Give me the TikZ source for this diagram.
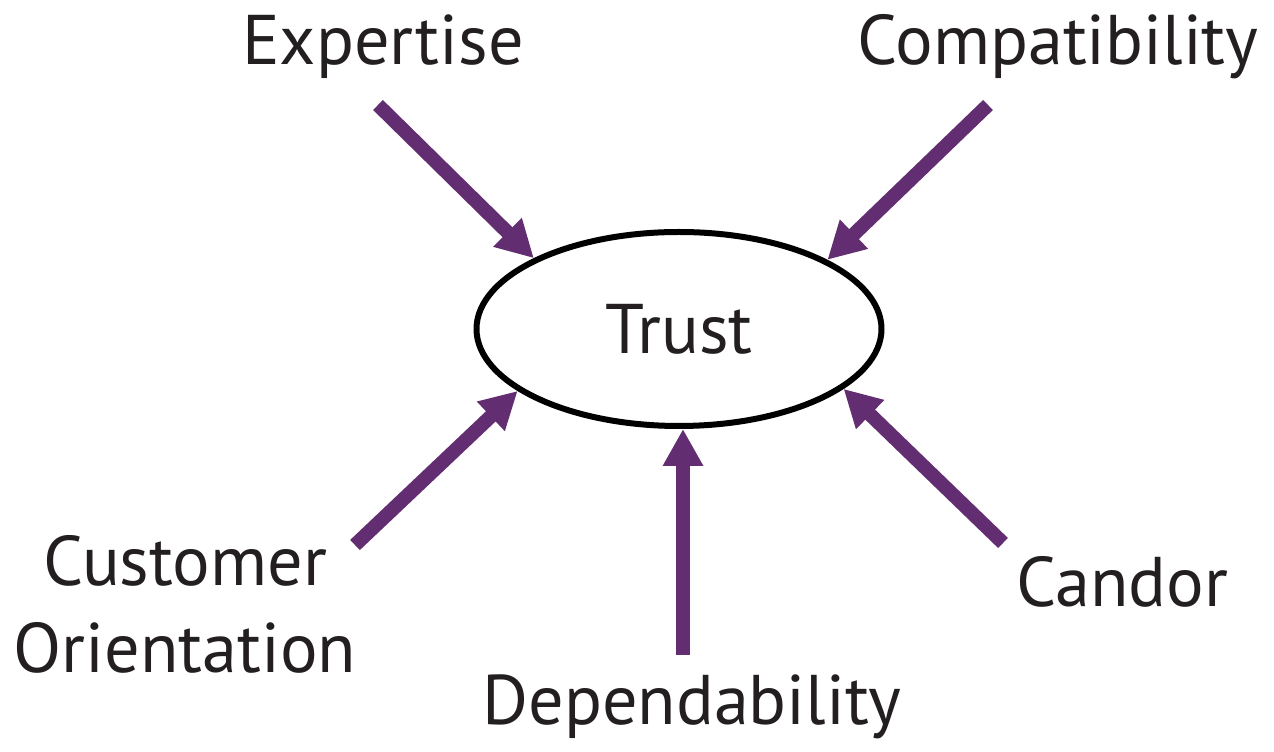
\documentclass[tikz,border=0pt]{standalone}
\usepackage{fontspec}
\setmainfont{PT Sans}
\usetikzlibrary{arrows.meta,shapes.geometric}
\definecolor{trustpurple}{RGB}{99,45,113}
\definecolor{inkblack}{RGB}{35,31,32}
\begin{document}
\begin{tikzpicture}[
    factor/.style={font=\fontsize{40}{50}\selectfont,text=inkblack,inner sep=0pt,anchor=base},
    push/.style={draw=trustpurple,line width=0.28cm,
      -{Triangle[length=0.74cm,width=0.76cm]}}]
  \useasboundingbox (0,0) rectangle (25.48,15.04);
  \node[ellipse,draw,line width=0.12cm,minimum width=8.1cm,minimum height=3.88cm,
    inner sep=0pt,text=inkblack,font=\fontsize{40}{50}\selectfont] (trust) at (13.58,8.46) {Trust};
  \node[factor] (expertise) at (7.66,13.74) {Expertise};
  \node[factor] (compat) at (21.16,13.74) {Compatibility};
  \node[factor,align=center] (custor) at (3.70,1.58) {Customer\\Orientation};
  \node[factor] (depend) at (13.84,0.54) {Dependability};
  \node[factor] (candor) at (22.44,2.90) {Candor};
  \coordinate (e1) at (7.56,12.94);
  \coordinate (c1) at (19.76,12.94);
  \coordinate (o1) at (7.10,4.14);
  \coordinate (d1) at (13.66,1.94);
  \coordinate (n1) at (20.06,4.18);
  \draw[push] (e1) -- (trust.154);
  \draw[push] (c1) -- (trust.25);
  \draw[push] (o1) -- (trust.201);
  \draw[push] (d1) -- (d1 |- trust.south);
  \draw[push] (n1) -- (trust.340);
\end{tikzpicture}
\end{document}
